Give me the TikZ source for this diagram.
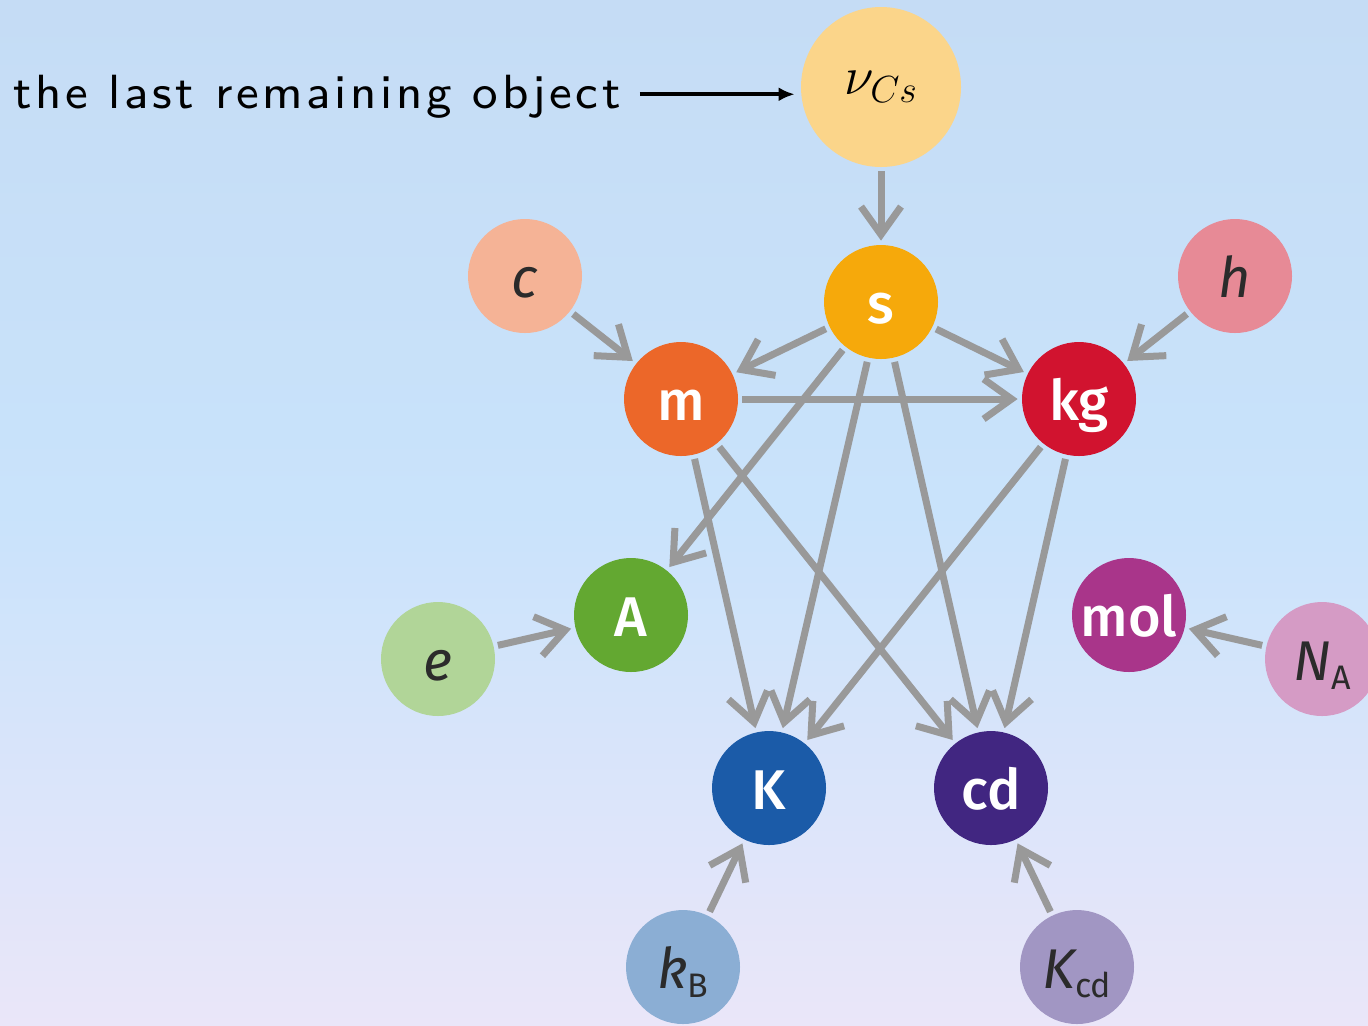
\documentclass[tikz,border=0pt]{standalone}
\usepackage{fix-cm}
\usepackage{fontspec}
\newfontfamily\unitfont{Fira Sans}[BoldFont={Fira Sans Medium}, BoldItalicFont={Fira Sans Medium Italic}]
\newfontfamily\notefont{Latin Modern Sans}[LetterSpace=7.7]
\usetikzlibrary{arrows.meta}
\definecolor{bgtop}{HTML}{C5DCF5}
\definecolor{bgmid}{HTML}{C9E3FB}
\definecolor{bgbot}{HTML}{EAE6F9}
\definecolor{linkgray}{HTML}{999999}
\definecolor{darktext}{HTML}{2B2B2B}
\newcommand{\lowsub}[1]{\raisebox{-4.5pt}{\fontsize{17}{17}\selectfont\upshape #1}}
\tikzset{
  px/.style={x=0.5pt, y=-0.5pt},
  unit/.style={circle, minimum size=57pt, inner sep=0pt, text=white,
    text height=21pt, text depth=0pt,
    font=\unitfont\bfseries\fontsize{28}{28}\selectfont},
  const/.style={unit, text=darktext, font=\unitfont\itshape\fontsize{28}{28}\selectfont},
  link/.style={draw=linkgray, line width=3.5pt, -{Straight Barb[length=14pt,width=20pt]},
    shorten <=2pt, shorten >=2pt},
  pointer/.style={black, line width=2pt, -{Latex[length=8pt,width=7pt]}},
}
\begin{document}
\begin{tikzpicture}[px]
  % background
  \clip (0,0) rectangle (1368,1025);
  \fill[top color=bgtop, bottom color=bgbot, middle color=bgmid] (0,0) rectangle (1368,1025);
  % the defining constant
  \node[circle, fill={rgb,255:red,251;green,213;blue,138}, minimum size=80pt, inner sep=0pt,
    font=\fontsize{27}{27}\selectfont] (nuCs) at (881,87) {$\nu_{Cs}$};
  \node[anchor=base west, font=\notefont\fontsize{8}{8}\selectfont, scale=3, inner sep=0pt] (note) at (12,108)
    {the last remaining object};
  % base units
  \node[unit, fill={rgb,255:red,246;green,169;blue,11}] (s) at (881,302) {s};
  \node[unit, fill={rgb,255:red,236;green,103;blue,41}] (m) at (681,399) {m};
  \node[unit, fill={rgb,255:red,209;green,19;blue,47}] (kg) at (1079,399) {kg};
  \node[unit, fill={rgb,255:red,99;green,168;blue,49}] (A) at (631,615) {A};
  \node[unit, fill={rgb,255:red,169;green,53;blue,138}] (mol) at (1129,615) {mol};
  \node[unit, fill={rgb,255:red,27;green,91;blue,168}] (K) at (769,788) {K};
  \node[unit, fill={rgb,255:red,65;green,38;blue,129}] (cd) at (991,788) {cd};
  % other constants
  \node[const, fill={rgb,255:red,245;green,179;blue,150}] (c) at (525,276) {c};
  \node[const, fill={rgb,255:red,231;green,138;blue,150}] (h) at (1235,276) {h};
  \node[const, fill={rgb,255:red,177;green,213;blue,152}] (e) at (438,659) {e};
  \node[const, fill={rgb,255:red,213;green,155;blue,197}] (NA) at (1322,659) {N\lowsub{A}};
  \node[const, fill={rgb,255:red,139;green,174;blue,212}] (kB) at (683,967) {k\lowsub{B}};
  \node[const, fill={rgb,255:red,161;green,150;blue,195}] (Kcd) at (1077,967) {K\lowsub{cd}};
  % dependencies
  \draw[pointer, shorten <=9pt, shorten >=3pt] ([yshift=1pt]note.east) -- ([yshift=1pt]note.east -| nuCs.west);
  \draw[link] (nuCs) -- (s);
  \draw[link] (c) -- (m);
  \draw[link] (h) -- (kg);
  \draw[link] (s) -- (m);
  \draw[link] (s) -- (kg);
  \draw[link] (m) -- (kg);
  \draw[link] (s) -- (A);
  \draw[link] (s) -- (K);
  \draw[link] (s) -- (cd);
  \draw[link] (m) -- (K);
  \draw[link] (m) -- (cd);
  \draw[link] (kg) -- (K);
  \draw[link] (kg) -- (cd);
  \draw[link] (e) -- (A);
  \draw[link] (NA) -- (mol);
  \draw[link] (kB) -- (K);
  \draw[link] (Kcd) -- (cd);
\end{tikzpicture}
\end{document}
